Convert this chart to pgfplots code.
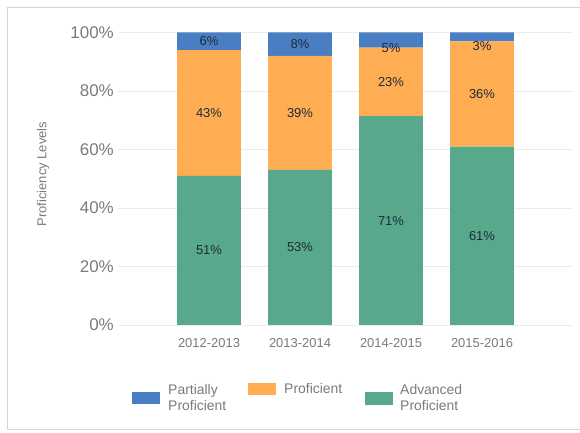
\documentclass[border=0pt]{standalone}
\usepackage{fontspec}
\setmainfont{Liberation Sans}
\usepackage{pgfplots}
\pgfplotsset{compat=1.18}
\usepackage{pgfplotstable}
\definecolor{cblue}{HTML}{4A7EC2}
\definecolor{corange}{HTML}{FFAD52}
\definecolor{cgreen}{HTML}{58A98B}
\definecolor{ctick}{HTML}{7A7A7A}
\definecolor{clab}{HTML}{1E2A3A}
\definecolor{cgrid}{HTML}{EBEBEB}
\definecolor{cframe}{HTML}{D4D4D4}

\pgfplotstableread{
x adv prof part
0 51 43 6
1 53 39 8
2 71.4 23.4 5.2
3 61 36 3
}\datatable

\pgfplotstableread{
x y lab
0 25.5 51
0 72.5 43
0 97 6
1 26.5 53
1 72.5 39
1 96 8
2 35.7 71
2 83.1 23
2 94.8 5
3 30.5 61
3 79 36
3 95.3 3
}\labeltable

\begin{document}
\begin{tikzpicture}
\useasboundingbox (0bp,0bp) rectangle (580bp,433bp);
\draw[cframe, line width=1bp] (590bp,3bp) -- (7.5bp,3bp) -- (7.5bp,425.5bp) -- (590bp,425.5bp);
\begin{axis}[
  at={(118bp,108bp)}, anchor=south west,
  scale only axis, width=455bp, height=292.5bp,
  xmin=-1, xmax=4, ymin=0, ymax=100,
  ybar stacked, bar width=0.7,
  axis line style={draw=none},
  major tick length=0pt,
  ymajorgrids, grid style={cgrid, line width=0.8bp},
  xtick={0,1,2,3},
  xticklabels={2012-2013,2013-2014,2014-2015,2015-2016},
  ytick={0,20,40,60,80,100},
  yticklabel={\pgfmathprintnumber{\tick}\%},
  /pgf/number format/assume math mode=true,
  xticklabel style={font=\fontsize{13}{15}\selectfont, text=ctick, anchor=center, yshift=-18bp},
  yticklabel style={font=\fontsize{17}{20}\selectfont, text=ctick, anchor=east, inner sep=0pt, xshift=-4bp},
  clip=false,
]
\addplot[fill=cgreen, draw=none] table[x=x, y=adv] {\datatable};
\addplot[fill=corange, draw=none] table[x=x, y=prof] {\datatable};
\addplot[fill=cblue, draw=none] table[x=x, y=part] {\datatable};
\end{axis}
\begin{axis}[
  at={(118bp,108bp)}, anchor=south west,
  scale only axis, width=455bp, height=292.5bp,
  xmin=-1, xmax=4, ymin=0, ymax=100,
  hide axis, clip=false,
  /pgf/number format/assume math mode=true,
]
\addplot[draw=none, mark=none, nodes near coords={\pgfmathprintnumber[fixed,precision=0,assume math mode=true]{\pgfplotspointmeta}\%},
  point meta=explicit,
  every node near coord/.append style={anchor=center, text=clab, font=\fontsize{13}{15}\selectfont, inner sep=0pt}]
  table[x=x, y=y, meta=lab] {\labeltable};
\end{axis}
\node[rotate=90, text=ctick, font=\fontsize{13}{15}\selectfont] at (43bp,259bp) {Proficiency Levels};
% legend
\fill[cblue] (132bp,29bp) rectangle (160bp,41bp);
\node[anchor=west, align=left, text=ctick, font=\fontsize{14}{17}\selectfont, inner sep=0pt] at (168bp,35.5bp) {Partially\\Proficient};
\fill[corange] (248bp,38bp) rectangle (276bp,50bp);
\node[anchor=west, text=ctick, font=\fontsize{14}{17}\selectfont, inner sep=0pt] at (284bp,44bp) {Proficient};
\fill[cgreen] (365bp,28bp) rectangle (393bp,41bp);
\node[anchor=west, align=left, text=ctick, font=\fontsize{14}{17}\selectfont, inner sep=0pt] at (400bp,35.5bp) {Advanced\\Proficient};
\end{tikzpicture}
\end{document}
